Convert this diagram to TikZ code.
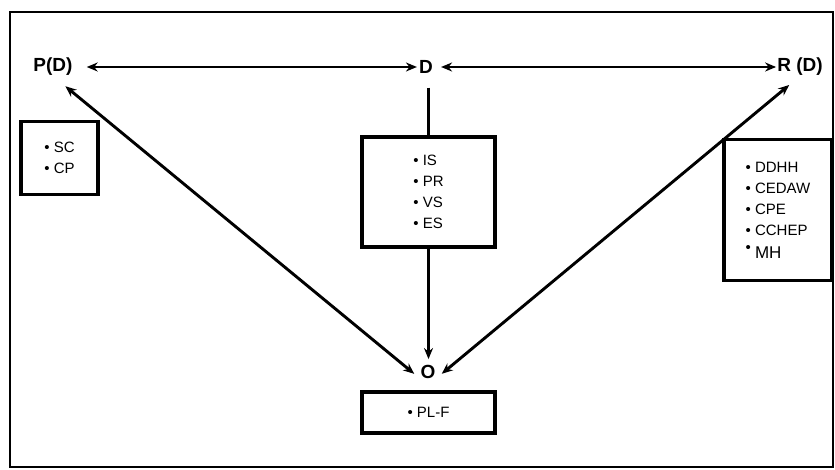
\documentclass[tikz,border=0pt]{standalone}
\usepackage{fontspec}
\setmainfont{Liberation Sans}
\usetikzlibrary{arrows.meta}
\begin{document}
\begin{tikzpicture}[x=1pt,y=-1pt,
  lbl/.style={font=\fontsize{19}{22}\selectfont\bfseries, inner sep=0pt},
  listbox/.style={draw, line width=3.2pt, align=left, inner sep=0pt,
    font=\fontsize{15}{21}\selectfont},
  conn/.style={line width=2.9pt},
  tip/.style={-{Stealth[length=11pt,width=9pt]}},
  tips/.style={{Stealth[length=11pt,width=9pt]}-{Stealth[length=11pt,width=9pt]}}
]
\useasboundingbox (0,0) rectangle (835,470);
\draw[line width=2.4pt] (10,12) rectangle (833,467);
% labels
\node[lbl] (PD) at (53,67) {P(D)};
\node[lbl] (D) at (426,67) {D};
\node[lbl] (RD) at (800,67) {R (D)};
\node[lbl] (O) at (428,372) {O};
% boxes
\node[listbox, minimum width=77pt, minimum height=73pt] (B1) at (59.5,158)
  {\textbullet\ SC\\ \textbullet\ CP};
\node[listbox, minimum width=133pt, minimum height=110pt] (B2) at (428.5,192)
  {\textbullet\ IS\\ \textbullet\ PR\\ \textbullet\ VS\\ \textbullet\ ES};
\node[listbox, minimum width=108pt, minimum height=141pt] (B3) at (778,210)
  {\textbullet\ DDHH\\ \textbullet\ CEDAW\\ \textbullet\ CPE\\ \textbullet\ CCHEP\\[2pt]
   \raisebox{6pt}{\textbullet}\ {\fontsize{17}{20}\selectfont MH}};
\node[listbox, minimum width=133pt, minimum height=41pt] (B4) at (428.5,412.5)
  {\textbullet\ PL-F};
% connectors
\draw[conn,tips,shorten <=14pt,shorten >=2pt] (PD.east) -- (D.west);
\draw[conn,tips,shorten <=8pt,shorten >=1pt] (D.east) -- (RD.west);
\draw[conn] (B2.north |- D.south) ++(0,14) -- (B2.north);
\draw[conn,tip,shorten >=6pt] (B2.south) -- (B2.south |- O.north);
\draw[conn,tips,shorten <=16pt,shorten >=8pt] (PD.south) -- (O.south west);
\draw[conn,tips,shorten <=14pt,shorten >=8pt] (RD.south) -- (O.south east);
\end{tikzpicture}
\end{document}
